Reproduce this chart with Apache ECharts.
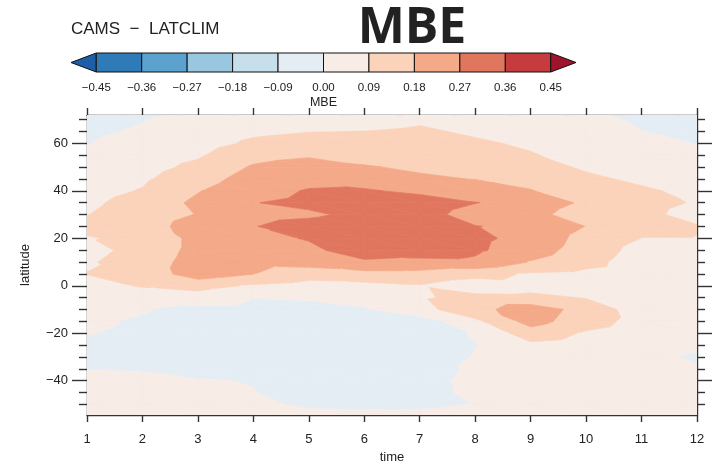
<!DOCTYPE html>
<html><head><meta charset="utf-8">
<script src="https://cdn.jsdelivr.net/npm/echarts@6/dist/echarts.min.js"></script>
<style>html,body{margin:0;padding:0;background:#fff}#c{width:720px;height:469px}</style>
</head><body><div id="c"></div>
<script>
// ---------------- data ----------------
const months = [1,2,3,4,5,6,7,8,9,10,11,12];
const latitudes = [75,70,65,60,55,50,45,40,35,30,25,20,15,10,5,0,-5,-10,-15,-20,-25,-30,-35,-40,-45,-50,-55];
// MBE value per month, listed along latitudes (75 .. -55)
const m01 = [-0.04,-0.03,-0.015,-0.002,0.02,0.035,0.05,0.06,0.075,0.088,0.105,0.085,0.065,0.08,0.092,0.06,0.04,0.025,0.012,0.002,-0.01,-0.01,-0.0005,0.01,0.02,0.02,0.02];
const m02 = [-0.02,-0.003,0.01,0.03,0.045,0.06,0.078,0.095,0.12,0.13,0.14,0.107,0.117,0.13,0.12,0.097,0.045,0.005,-0.008,-0.012,-0.014,-0.012,-0.003,0.008,0.015,0.02,0.02];
const m03 = [0.01,0.025,0.04,0.055,0.08,0.11,0.14,0.175,0.20,0.185,0.22,0.21,0.21,0.22,0.23,0.12,0.052,-0.025,-0.03,-0.03,-0.025,-0.02,-0.012,0.002,0.01,0.015,0.015];
const m04 = [0.03,0.05,0.075,0.105,0.15,0.19,0.22,0.245,0.268,0.25,0.268,0.25,0.23,0.21,0.182,0.08,0.003,-0.027,-0.035,-0.035,-0.03,-0.025,-0.018,-0.0012,0.001,0.01,0.015];
const m05 = [0.04,0.06,0.088,0.12,0.17,0.22,0.25,0.275,0.285,0.26,0.293,0.275,0.255,0.22,0.13,0.056,0.0095,-0.03,-0.04,-0.045,-0.045,-0.04,-0.035,-0.03,-0.02,-0.008,0.013];
const m06 = [0.045,0.065,0.091,0.125,0.16,0.185,0.23,0.28,0.31,0.286,0.31,0.32,0.305,0.26,0.15,0.064,0.02,-0.006,-0.03,-0.04,-0.045,-0.045,-0.04,-0.035,-0.025,-0.01,0.012];
const m07 = [0.06,0.08,0.10,0.13,0.15,0.17,0.19,0.25,0.315,0.30,0.32,0.32,0.31,0.25,0.15,0.085,0.08,0.06,-0.05,-0.04,-0.035,-0.03,-0.03,-0.02,-0.02,-0.008,0.012];
const m08 = [0.04,0.06,0.08,0.10,0.125,0.15,0.178,0.24,0.272,0.239,0.273,0.29,0.285,0.255,0.12,0.04,0.114,0.15,0.071,0.008,-0.002,0.0033,0.013,0.016,0.013,0.002,0.015];
const m09 = [0.03,0.045,0.06,0.08,0.095,0.12,0.15,0.185,0.25,0.22,0.25,0.24,0.22,0.175,0.08,0.06,0.11,0.23,0.215,0.14,0.07,0.035,0.03,0.03,0.03,0.025,0.025];
const m10 = [0.005,0.02,0.035,0.05,0.065,0.08,0.105,0.12,0.16,0.115,0.178,0.15,0.14,0.12,0.068,0.06,0.085,0.145,0.13,0.08,0.05,0.03,0.03,0.03,0.03,0.025,0.025];
const m11 = [-0.02,-0.01,0.001,0.015,0.03,0.045,0.075,0.102,0.11,0.105,0.115,0.089,0.06,0.045,0.04,0.035,0.035,0.045,0.057,0.04,0.02,0.009,0.015,0.02,0.02,0.02,0.02];
const m12 = [-0.03,-0.02,-0.01,-0.001,0.015,0.03,0.05,0.07,0.085,0.07,0.094,0.088,0.06,0.04,0.035,0.03,0.025,0.02,0.02,0.02,0.008,-0.005,0.0045,0.01,0.015,0.015,0.015];
const columns = [m01,m02,m03,m04,m05,m06,m07,m08,m09,m10,m11,m12];

const levels = [-0.45,-0.36,-0.27,-0.18,-0.09,0.00,0.09,0.18,0.27,0.36,0.45];
const levelLabels = ['\u22120.45','\u22120.36','\u22120.27','\u22120.18','\u22120.09','0.00','0.09','0.18','0.27','0.36','0.45'];
const bandColors = ['#1d5fa6','#2f7bb8','#5ba2cf','#98c7df','#c7deeb','#e5edf4','#f7ece6','#fbd2ba','#f4a988','#e1765e','#c63b3d','#a0142b'];
const xTicks = [1,2,3,4,5,6,7,8,9,10,11,12];
const yMajorTicks = [-40,-20,0,20,40,60];
const yMinorTicks = [-50,-45,-35,-30,-25,-15,-10,-5,5,10,15,25,30,35,45,50,55,65,70];

// ---------------- build ----------------
const cells = [];
for (let i = 0; i < months.length - 1; i++) {
  for (let j = 0; j < latitudes.length - 1; j++) {
    cells.push([months[i], latitudes[j], months[i+1], latitudes[j+1],
      columns[i][j], columns[i+1][j], columns[i][j+1], columns[i+1][j+1]]);
  }
}
const bandLo = [-Infinity].concat(levels);
const bandHi = levels.concat([Infinity]);

function clipPoly(poly, f) {
  const out = [];
  for (let k = 0; k < poly.length; k++) {
    const a = poly[k], b = poly[(k + 1) % poly.length];
    const fa = f(a), fb = f(b);
    if (fa >= 0) out.push(a);
    if ((fa >= 0) !== (fb >= 0)) {
      const t = fa / (fa - fb);
      out.push([a[0] + t * (b[0] - a[0]), a[1] + t * (b[1] - a[1]), a[2] + t * (b[2] - a[2])]);
    }
  }
  return out;
}

function renderCell(params, api) {
  const x0 = api.value(0), y0 = api.value(1), x1 = api.value(2), y1 = api.value(3);
  const A = [x0, y0, api.value(4)], B = [x1, y0, api.value(5)];
  const C = [x0, y1, api.value(6)], D = [x1, y1, api.value(7)];
  const tris = [[A, B, D], [A, D, C]];
  const children = [];
  tris.forEach(function (tri) {
    const vs = tri.map(p => p[2]);
    const vmin = Math.min.apply(null, vs), vmax = Math.max.apply(null, vs);
    for (let b = 0; b < bandColors.length; b++) {
      const lo = bandLo[b], hi = bandHi[b];
      if (hi < vmin || lo > vmax) continue;
      let p = tri;
      if (isFinite(lo)) p = clipPoly(p, q => q[2] - lo);
      if (p.length >= 3 && isFinite(hi)) p = clipPoly(p, q => hi - q[2]);
      if (p.length < 3) continue;
      const pts = p.map(q => api.coord([q[0], q[1]]));
      children.push({type: 'polygon', shape: {points: pts},
        style: {fill: bandColors[b], stroke: bandColors[b], lineWidth: 0.7}});
    }
  });
  return {type: 'group', children: children};
}

const barData = [];
for (let b = 0; b < bandColors.length; b++) {
  barData.push([b === 0 ? levels[0] : levels[b - 1], b === bandColors.length - 1 ? levels[levels.length - 1] : levels[b], b]);
}
function renderBar(params, api) {
  const lo = api.value(0), hi = api.value(1), b = api.value(2);
  const cs = params.coordSys;
  const pLo = api.coord([lo, 1]), pHi = api.coord([hi, 0]);
  const top = cs.y, bot = cs.y + cs.height, mid = cs.y + cs.height / 2;
  const st = {fill: bandColors[b], stroke: '#111', lineWidth: 1};
  if (b === 0) {
    return {type: 'polygon', shape: {points: [[cs.x, mid], [pLo[0], top], [pLo[0], bot]]}, style: st};
  }
  if (b === bandColors.length - 1) {
    return {type: 'polygon', shape: {points: [[cs.x + cs.width, mid], [pHi[0], top], [pHi[0], bot]]}, style: st};
  }
  return {type: 'rect', shape: {x: pLo[0], y: top, width: pHi[0] - pLo[0], height: bot - top}, style: st};
}

const FONT = 'Liberation Sans';
const axisCol = '#333';
const lab = {fontFamily: FONT, fontSize: 13, color: '#222'};
const minus = v => (v < 0 ? '\u2212' + Math.abs(v) : String(v));

const chart = echarts.init(document.getElementById('c'), null, {renderer: 'canvas'});
chart.setOption({
  animation: false,
  backgroundColor: '#fff',
  textStyle: {fontFamily: FONT},
  grid: [
    {left: 87, right: 23, top: 115, bottom: 52},
    {left: 71, width: 505, top: 53, height: 19}
  ],
  xAxis: [
    {gridIndex: 0, type: 'value', min: 1, max: 12, interval: 1, position: 'bottom',
      axisLine: {show: true, onZero: false, lineStyle: {color: axisCol, width: 1.4}},
      axisTick: {show: true, length: 7, lineStyle: {color: axisCol, width: 1.4}},
      axisLabel: Object.assign({margin: 18, customValues: xTicks}, lab),
      splitLine: {show: false},
      name: 'time', nameLocation: 'middle', nameGap: 36, nameTextStyle: {fontFamily: FONT, fontSize: 13, color: '#222'}},
    {gridIndex: 0, type: 'value', min: 1, max: 12, interval: 1, position: 'top',
      axisLine: {show: true, onZero: false, lineStyle: {color: axisCol, width: 1.4}},
      axisTick: {show: true, length: 7, lineStyle: {color: axisCol, width: 1.4}},
      axisLabel: {show: false}, splitLine: {show: false}},
    {gridIndex: 1, type: 'value', min: -0.5, max: 0.5,
      axisLine: {show: false}, axisTick: {show: false}, splitLine: {show: false},
      axisLabel: {show: true, customValues: levels, margin: 10, fontFamily: FONT, fontSize: 11.5, color: '#222',
        formatter: function (v) { const k = levels.findIndex(l => Math.abs(l - v) < 1e-6); return k >= 0 ? levelLabels[k] : ''; }},
      name: 'MBE', nameLocation: 'middle', nameGap: 24, nameTextStyle: {fontFamily: FONT, fontSize: 12.5, color: '#222'}}
  ],
  yAxis: [
    {gridIndex: 0, type: 'value', min: -54.5, max: 72, position: 'left',
      axisLine: {show: true, onZero: false, lineStyle: {color: axisCol, width: 1.4}},
      axisTick: {show: true, length: 15, customValues: yMajorTicks, lineStyle: {color: axisCol, width: 1.4}},
      axisLabel: Object.assign({margin: 19, customValues: yMajorTicks, formatter: minus}, lab),
      splitLine: {show: false},
      name: 'latitude', nameLocation: 'middle', nameGap: 55, nameRotate: 90,
      nameTextStyle: {fontFamily: FONT, fontSize: 13, color: '#222'}},
    {gridIndex: 0, type: 'value', min: -54.5, max: 72, position: 'left',
      axisLine: {show: false}, axisLabel: {show: false}, splitLine: {show: false},
      axisTick: {show: true, length: 8, customValues: yMinorTicks, lineStyle: {color: axisCol, width: 1.4}}},
    {gridIndex: 0, type: 'value', min: -54.5, max: 72, position: 'right',
      axisLine: {show: true, onZero: false, lineStyle: {color: axisCol, width: 1.4}},
      axisLabel: {show: false}, splitLine: {show: false},
      axisTick: {show: true, length: 15, customValues: yMajorTicks, lineStyle: {color: axisCol, width: 1.4}}},
    {gridIndex: 0, type: 'value', min: -54.5, max: 72, position: 'right',
      axisLine: {show: false}, axisLabel: {show: false}, splitLine: {show: false},
      axisTick: {show: true, length: 8, customValues: yMinorTicks, lineStyle: {color: axisCol, width: 1.4}}},
    {gridIndex: 1, type: 'value', min: 0, max: 1, show: false}
  ],
  series: [
    {type: 'custom', name: 'MBE', xAxisIndex: 0, yAxisIndex: 0, clip: true, silent: true,
      renderItem: renderCell, data: cells, encode: {x: [0, 2], y: [1, 3]}, z: 1},
    {type: 'custom', name: 'colorbar', xAxisIndex: 2, yAxisIndex: 4, silent: true,
      renderItem: renderBar, data: barData, encode: {x: [0, 1]}, z: 2}
  ],
  graphic: [
    {type: 'text', x: 71, y: 29, silent: true,
      style: {text: 'CAMS  \u2212  LATCLIM', font: '17px "Liberation Sans"', fill: '#222', align: 'left', verticalAlign: 'middle'}},
    {type: 'text', x: 412, y: 29, silent: true,
      style: {text: 'MBE', font: 'bold 50px "Open Sans"', fill: '#222', align: 'center', verticalAlign: 'middle'}}
  ]
});
</script>
</body></html>
